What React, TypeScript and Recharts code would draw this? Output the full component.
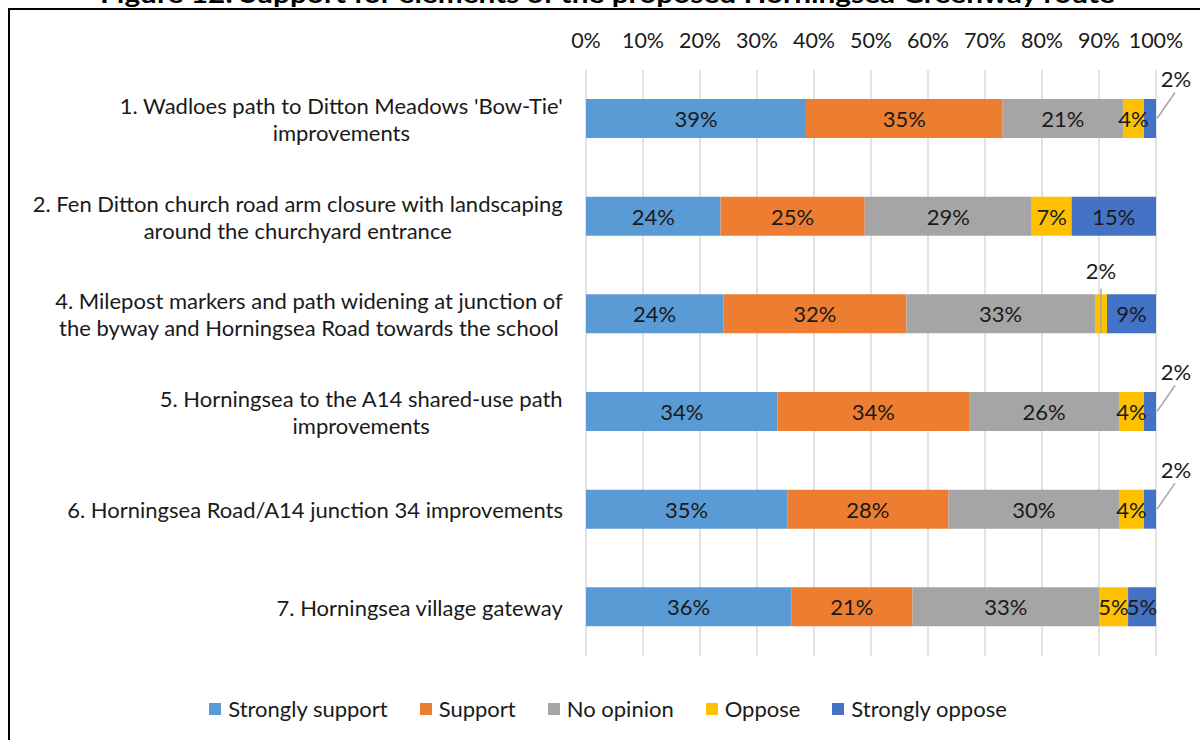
import { BarChart, Bar, XAxis, YAxis, CartesianGrid, Legend, LabelList } from 'recharts';

const categories = [
  "1. Wadloes path to Ditton Meadows 'Bow-Tie'\nimprovements",
  '2. Fen Ditton church road arm closure with landscaping\naround the churchyard entrance',
  '4. Milepost markers and path widening at junction of\nthe byway and Horningsea Road towards the school',
  '5. Horningsea to the A14 shared-use path\nimprovements',
  '6. Horningsea Road/A14 junction 34 improvements',
  '7. Horningsea village gateway',
];

const strongSupport = [38.6, 23.6, 24.1, 33.6, 35.3, 36.0];
const support = [34.5, 25.3, 32.1, 33.6, 28.3, 21.3];
const noOpinion = [21.1, 29.3, 33.1, 26.3, 29.9, 32.7];
const oppose = [3.7, 7.0, 2.1, 4.4, 4.4, 5.1];
const strongOppose = [2.1, 14.8, 8.6, 2.1, 2.1, 4.9];

const percentTicks = [0, 10, 20, 30, 40, 50, 60, 70, 80, 90, 100];

const title = 'Figure 12: Support for elements of the proposed Horningsea Greenway route';

const series = [
  { key: 'strongSupport', name: 'Strongly support', color: '#5b9bd5' },
  { key: 'support', name: 'Support', color: '#ed7d31' },
  { key: 'noOpinion', name: 'No opinion', color: '#a5a5a5' },
  { key: 'oppose', name: 'Oppose', color: '#ffc000' },
  { key: 'strongOppose', name: 'Strongly oppose', color: '#4472c4' },
];

const data = categories.map((name, i) => ({
  name,
  strongSupport: strongSupport[i],
  support: support[i],
  noOpinion: noOpinion[i],
  oppose: oppose[i],
  strongOppose: strongOppose[i],
}));

const FONT = 'Lato, "Open Sans", sans-serif';
const LABEL_SIZE = 22;
const TEXT = '#1a1a1a';

let ctx: CanvasRenderingContext2D | null = null;
function measure(text: string) {
  if (!ctx) ctx = document.createElement('canvas').getContext('2d');
  if (!ctx) return text.length * 10;
  ctx.font = `${LABEL_SIZE}px Lato`;
  return ctx.measureText(text).width;
}

function CategoryTick({ x, y, payload }: any) {
  const lines = String(payload.value).split('\n');
  const w = Math.max(...lines.map(measure));
  const cx = x - w / 2;
  return (
    <g>
      {lines.map((line, i) => (
        <text
          key={i}
          x={cx}
          y={y + (i - (lines.length - 1) / 2) * 27}
          textAnchor="middle"
          dominantBaseline="central"
          fontSize={LABEL_SIZE}
          fontFamily={FONT}
          fill={TEXT}
        >
          {line}
        </text>
      ))}
    </g>
  );
}

const makeLabel = (seriesKey: string) => (props: any) => {
  const { x, y, width, height, value } = props;
  const txt = `${Math.round(value)}%`;
  const cy = y + height / 2;
  const common = { fontSize: LABEL_SIZE, fontFamily: FONT, fill: TEXT, dominantBaseline: 'central' as const };
  if (value < 3 && seriesKey === 'strongOppose') {
    const rx = x + width;
    return (
      <g>
        <line x1={rx + 1} y1={cy} x2={rx + 19} y2={cy - 26} stroke="#a6a6a6" strokeWidth={1.5} />
        <text x={rx + 20} y={cy - 40} textAnchor="middle" {...common}>{txt}</text>
      </g>
    );
  }
  if (value < 3 && seriesKey === 'oppose') {
    const mx = x + width / 2;
    return (
      <g>
        <line x1={mx} y1={cy - 25} x2={mx} y2={y + height} stroke="#a6a6a6" strokeWidth={1.5} />
        <text x={mx} y={cy - 43} textAnchor="middle" {...common}>{txt}</text>
      </g>
    );
  }
  return (
    <text x={x + width / 2} y={cy} textAnchor="middle" {...common}>{txt}</text>
  );
};

function LegendContent() {
  return (
    <div
      style={{
        height: 84,
        boxSizing: 'border-box',
        paddingTop: 22,
        paddingLeft: 50,
        display: 'flex',
        justifyContent: 'center',
        alignItems: 'center',
        fontFamily: FONT,
        fontSize: 22,
        color: TEXT,
      }}
    >
      {series.map((s) => (
        <div key={s.key} style={{ display: 'flex', alignItems: 'center', margin: '0 16px', lineHeight: '26px' }}>
          <span style={{ width: 12, height: 12, background: s.color, display: 'inline-block', marginRight: 7 }} />
          <span>{s.name}</span>
        </div>
      ))}
    </div>
  );
}

export default function App() {
  return (
    <div style={{ position: 'absolute', left: 0, top: 0, width: 1200, height: 740, overflow: 'hidden', background: '#fff' }}>
      <svg width={1200} height={12} style={{ position: 'absolute', left: 0, top: 0 }}>
        <text x={100} y={2.5} fontSize={25} fontWeight="bold" fontFamily={FONT} textLength={1015} lengthAdjust="spacingAndGlyphs" fill="#000">
          {title}
        </text>
      </svg>
      <div style={{ position: 'absolute', left: 8, top: 8, width: 1300, height: 800, border: '2px solid #000' }} />
      <div style={{ position: 'absolute', left: 0, top: 0 }}>
        <BarChart
          width={1200}
          height={740}
          data={data}
          layout="vertical"
          barSize={39}
          margin={{ top: 40, right: 44, left: 10, bottom: 0 }}
        >
          <CartesianGrid horizontal={false} stroke="#d9d9d9" strokeWidth={1.5} />
          <XAxis
            type="number"
            orientation="top"
            domain={[0, 100]}
            ticks={percentTicks}
            tickFormatter={(v) => `${v}%`}
            axisLine={false}
            tickLine={false}
            tickSize={0}
            tickMargin={22}
            height={30}
            interval={0}
            tick={{ fontSize: 21.5, fontFamily: FONT, fill: TEXT }}
          />
          <YAxis
            type="category"
            dataKey="name"
            width={576}
            axisLine={false}
            tickLine={false}
            tickSize={0}
            tickMargin={23}
            interval={0}
            tick={<CategoryTick />}
          />
          <Legend verticalAlign="bottom" content={<LegendContent />} />
          {series.map((s) => (
            <Bar key={s.key} dataKey={s.key} name={s.name} stackId="a" fill={s.color} isAnimationActive={false}>
              <LabelList dataKey={s.key} content={makeLabel(s.key)} />
            </Bar>
          ))}
        </BarChart>
      </div>
    </div>
  );
}
